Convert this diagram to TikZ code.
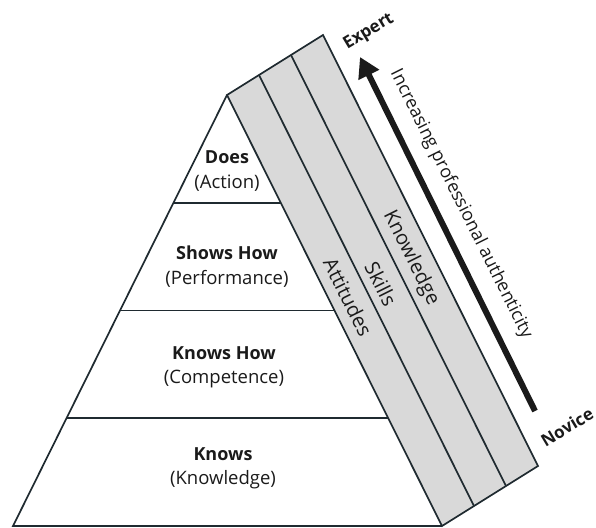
\documentclass[tikz,border=0pt]{standalone}
\usepackage{fontspec}
\setmainfont{Open Sans}
\usetikzlibrary{arrows.meta,calc}
\definecolor{edge}{HTML}{1F2A30}
\definecolor{bandfill}{HTML}{D9D9D9}
\definecolor{ink}{HTML}{1A1A1A}
\begin{document}
\begin{tikzpicture}[x=1pt,y=-1pt,
  outline/.style={draw=edge, line width=1.7pt, line join=miter},
  level/.style={font=\fontsize{18}{20}\selectfont\bfseries, text=ink, inner sep=0pt},
  levelsub/.style={font=\fontsize{18.5}{20}\selectfont, text=ink, inner sep=0pt},
  bandtext/.style={font=\fontsize{20}{22}\selectfont, rotate=-63.5, text=ink, inner sep=0pt},
  endtag/.style={font=\fontsize{17}{19}\selectfont\bfseries, rotate=31, text=ink, inner sep=0pt},
  axistext/.style={font=\fontsize{18}{20}\selectfont, rotate=-63.5, text=ink, inner sep=0pt},
]
\useasboundingbox (0,0) rectangle (596,527);

% corner points of the pyramid and of the slanted bands
\coordinate (A) at (227,95);
\coordinate (L) at (13,526);
\coordinate (D) at (442,526);
\coordinate (B) at (323,35);
\coordinate (C) at (538,466);

% three slanted bands
\fill[bandfill] (A) -- (B) -- (C) -- (D) -- cycle;
\draw[outline] (A) -- (B) -- (C) -- (D) -- cycle;
\draw[outline] ($(A)!1/3!(B)$) -- ($(D)!1/3!(C)$);
\draw[outline] ($(A)!2/3!(B)$) -- ($(D)!2/3!(C)$);

% pyramid and its levels
\draw[outline] (A) -- (L) -- (D);
\foreach \t in {0.25,0.5,0.75}
  \draw[outline] ($(A)!\t!(L)$) -- ($(A)!\t!(D)$);

% level labels
\node[level]    (does)    at (227,157) {Does};
\node[levelsub] (action)  at (227,183) {(Action)};
\node[level]    (shows)   at (227,253) {Shows How};
\node[levelsub] (perf)    at (227,279) {(Performance)};
\node[level]    (knowsh)  at (224,353) {Knows How};
\node[levelsub] (comp)    at (224,379) {(Competence)};
\node[level]    (knows)   at (223,454) {Knows};
\node[levelsub] (knowl)   at (223,480) {(Knowledge)};

% band labels
\node[bandtext] (att)   at (348,297) {Attitudes};
\node[bandtext] (skl)   at (381,284) {Skills};
\node[bandtext] (kno)   at (411,258) {Knowledge};

% novice-to-expert axis
\node[endtag] (expert) at (369,32) {Expert};
\node[endtag] (novice) at (567,427) {Novice};
\coordinate (tail) at (535,411);
\coordinate (tip)  at (360,57);
\draw[ink, line width=6pt, -{Triangle[length=20pt,width=22pt]}] (tail) -- (tip);
\node[axistext] (axis) at (461,204) {Increasing professional authenticity};
\end{tikzpicture}
\end{document}
